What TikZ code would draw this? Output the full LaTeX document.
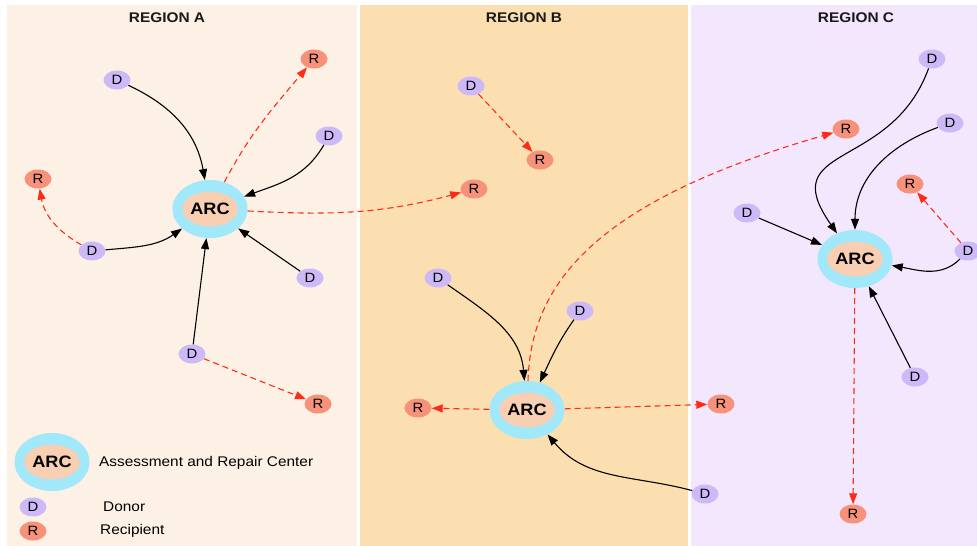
\documentclass[tikz,border=0pt]{standalone}
\usepackage{fontspec}
\setmainfont{Liberation Sans}[FakeStretch=1.1]
\usetikzlibrary{arrows.meta,shapes.geometric}
\definecolor{regiona}{HTML}{FDF1E6}
\definecolor{regionb}{HTML}{FCDFB1}
\definecolor{regionc}{HTML}{F3E7FE}
\definecolor{arcring}{HTML}{A0E8FA}
\definecolor{arccore}{HTML}{F8CFB2}
\definecolor{donor}{HTML}{CDB9F8}
\definecolor{recip}{HTML}{F7927A}
\definecolor{flowred}{HTML}{FF2B16}

\begin{document}
\begin{tikzpicture}[x=1pt, y=1pt,
  font=\fontsize{13.5}{15}\selectfont,
  rtitle/.style={font=\fontsize{14}{16}\selectfont\bfseries, text=black!90},
  arcout/.style={ellipse, fill=arcring, minimum width=75pt, minimum height=58pt, inner sep=0},
  arcin/.style={ellipse, fill=arccore, minimum width=45pt, minimum height=35pt, inner sep=0,
    font=\fontsize{16.5}{18}\selectfont\bfseries},
  dnode/.style={ellipse, fill=donor, minimum width=27pt, minimum height=19pt, inner sep=0},
  rnode/.style={dnode, fill=recip},
  arr/.style={line width=1.1pt, -{Triangle[length=11pt,width=8pt]}},
  darr/.style={arr, flowred, dash pattern=on 6pt off 4pt},
  ltxt/.style={anchor=west, inner sep=0, font=\fontsize{14}{16}\selectfont},
  ]
\useasboundingbox[fill=white] (0,0) rectangle (977,-546);

\path[fill=regiona] (7,-5) rectangle (357,-546);
\path[fill=regionb] (360,-5) rectangle (688,-546);
\path[fill=regionc] (691,-5) rectangle (977,-546);

\path (167,-18) node[rtitle](ta){REGION A};
\path (524,-18) node[rtitle](tb){REGION B};
\path (856,-18) node[rtitle](tc){REGION C};

% region A
\path (210,-209) node[arcout](arcA){};
\path (arcA) node[arcin](arcAin){ARC};
\path (117,-80) node[dnode](dA1){D};
\path (329,-136) node[dnode](dA2){D};
\path (92,-251) node[dnode](dA3){D};
\path (310,-278) node[dnode](dA4){D};
\path (192,-354) node[dnode](dA5){D};
\path (314,-59) node[rnode](rA1){R};
\path (38,-179) node[rnode](rA2){R};
\path (474,-189) node[rnode](rA3){R};
\path (318,-404) node[rnode](rA4){R};

\draw[arr] (dA1) to[out=-25,in=100] (arcA);
\draw[arr] (dA2) to[out=-120,in=20] (arcA);
\draw[arr] (dA3) to[out=5,in=215] (arcA);
\draw[arr] (dA4) -- (arcA);
\draw[arr] (dA5) -- (arcA);
\draw[darr] (arcA) to[out=62,in=230] (rA1);
\draw[darr] (dA3) to[out=150,in=-80] (rA2);
\draw[darr] (arcA) to[out=-3,in=195] (rA3);
\draw[darr] (dA5) -- (rA4);

% region B
\path (527,-410) node[arcout](arcB){};
\path (arcB) node[arcin](arcBin){ARC};
\path (471,-86) node[dnode](dB1){D};
\path (438,-278) node[dnode](dB2){D};
\path (580,-311) node[dnode](dB3){D};
\path (705,-494) node[dnode](dB4){D};
\path (540,-160) node[rnode](rB1){R};
\path (418,-408) node[rnode](rB2){R};
\path (721,-404) node[rnode](rB3){R};
\path (846,-129) node[rnode](rB4){R};

\draw[darr] (dB1) -- (rB1);
\draw[arr] (dB2) to[out=-35,in=95] (arcB);
\draw[arr] (dB3) to[out=-125,in=65] (arcB);
\draw[arr] (dB4) to[out=165,in=-50] (arcB);
\draw[darr] (arcB) -- (rB2);
\draw[darr] (arcB) -- (rB3);
\draw[darr] (arcB.88) .. controls (531,-280) and (600,-200) .. (rB4);

% region C
\path (855,-259) node[arcout](arcC){};
\path (arcC) node[arcin](arcCin){ARC};
\path (932,-59) node[dnode](dC1){D};
\path (950,-123) node[dnode](dC2){D};
\path (747,-213) node[dnode](dC3){D};
\path (968,-251) node[dnode](dC4){D};
\path (915,-377) node[dnode](dC5){D};
\path (910,-184) node[rnode](rC1){R};
\path (853,-514) node[rnode](rC2){R};

\draw[arr] (dC1) to[out=-110,in=125,looseness=1.5] (arcC);
\draw[arr] (dC2) to[out=-160,in=90] (arcC);
\draw[arr] (dC3) -- (arcC);
\draw[arr] (dC4) to[out=-135,in=-10] (arcC);
\draw[arr] (dC5) -- (arcC);
\draw[darr] (dC4) -- (rC1);
\draw[darr] (arcC) -- (rC2);

% legend
\path (52,-462) node[arcout](arcL){};
\path (arcL) node[arcin](arcLin){ARC};
\path (99,-463) node[ltxt](lArc){Assessment and Repair Center};
\path (103,-507) node[ltxt](lD){Donor};
\path (33,-507) node[dnode](dL){D};
\path (33,-531) node[rnode](rL){R};
\path (100,-531) node[ltxt](lR){Recipient};

\end{tikzpicture}
\end{document}
